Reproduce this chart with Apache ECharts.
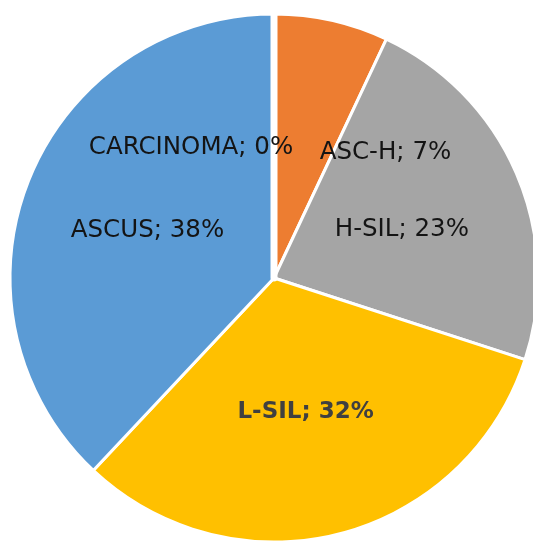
<!DOCTYPE html>
<html>
<head>
<meta charset="utf-8">
<script src="https://cdn.jsdelivr.net/npm/echarts@6/dist/echarts.min.js"></script>
<style>html,body{margin:0;padding:0;background:#fff}#c{width:533px;height:543px}</style>
</head>
<body>
<div id="c"></div>
<script>
const categories = ['ASC-H', 'H-SIL', 'L-SIL', 'ASCUS', 'CARCINOMA'];
const values = [7, 23, 32, 38, 0];
const colors = ['#ED7D31', '#A5A5A5', '#FFC000', '#5B9BD5', '#4472C4'];
const labelShift = [[82, 6], [4, 5], [-2, 3], [-1, 2], [-83, 5]];

const chart = echarts.init(document.getElementById('c'), null, {renderer: 'canvas'});
const data = categories.map((name, i) => ({
  name: name,
  value: values[i],
  itemStyle: {color: colors[i], borderWidth: name === 'CARCINOMA' ? 7 : 3},
  label: name === 'L-SIL' ? {fontWeight: 'bold', color: '#404040', fontSize: 23} : {}
}));
chart.setOption({
  animation: false,
  series: [{
    type: 'pie',
    center: [274, 278],
    radius: 264,
    startAngle: 90,
    clockwise: true,
    avoidLabelOverlap: false,
    percentPrecision: 0,
    itemStyle: {borderColor: '#ffffff', borderWidth: 3},
    label: {
      show: true,
      position: 'inside',
      formatter: '{b}; {d}%',
      fontFamily: 'DejaVu Sans',
      fontSize: 24.5,
      color: '#141414'
    },
    labelLine: {show: false},
    labelLayout: function (p) {
      const s = labelShift[p.dataIndex];
      return {dx: s[0], dy: s[1]};
    },
    emphasis: {disabled: true},
    data: data
  }]
});
</script>
</body>
</html>
